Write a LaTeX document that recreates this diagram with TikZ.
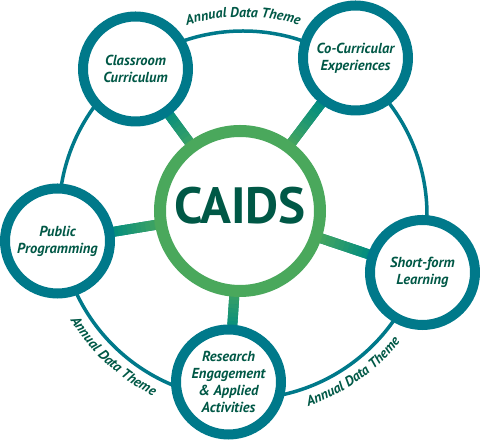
\documentclass[tikz,border=0pt]{standalone}
\usepackage{fontspec}
\newfontfamily\labelfont{PT Sans}
\usetikzlibrary{calc,backgrounds,decorations.text}
\definecolor{ringteal}{RGB}{0,121,138}
\definecolor{hubgreen}{RGB}{74,168,92}
\definecolor{spokegreen}{RGB}{72,166,94}
\definecolor{spoketeal}{RGB}{0,140,128}
\definecolor{txtgreen}{RGB}{0,88,70}

\begin{document}
\begin{tikzpicture}[x=1pt, y=1pt,
  hub/.style = {draw=hubgreen, circle, line width=12pt, fill=white, minimum size=160pt},
  hubtext/.style = {text=txtgreen, font=\labelfont\bfseries\fontsize{51}{51}\selectfont},
  sat/.style = {draw=ringteal, circle, line width=10pt, fill=white, minimum size=105pt,
    inner sep=0pt, align=center, text=txtgreen, font=\labelfont\bfseries\itshape\fontsize{14.5}{17}\selectfont},
  spoke/.style = {line width=10pt},
  theme/.style = {draw=ringteal, line width=3.5pt},
  themetext/.style = {decorate, decoration={text along path, text align=center,
    text={|\labelfont\bfseries\itshape\fontsize{14}{14}\selectfont\color{txtgreen}|Annual Data Theme}}}]
  \useasboundingbox (0,0) rectangle (480,441);

  \coordinate (ringc) at (243,226);
  \node[hub] (caids) at (240,230) {};
  \node[hubtext] (caidslabel) at ([yshift=5pt]caids.center) {CAIDS};
  \node[sat] (classroom) at (135.5,372) {Classroom\\Curriculum};
  \node[sat] (cocurr) at (355.5,383) {Co-Curricular\\Experiences};
  \node[sat] (public) at (57.5,200) {Public\\Programming};
  \node[sat] (shortform) at (422.5,168.5) {Short-form\\Learning};
  \node[sat] (research) at (228.5,59) {Research\\Engagement\\\&~Applied\\Activities};

  \begin{scope}[on background layer]
    \draw[theme] (ringc) circle[radius=184];
    \foreach \o in {classroom,cocurr,public,shortform,research}{
      \draw[spoke, spoketeal] (caids) -- (\o);
      \foreach \i in {0,...,11}{
        \pgfmathsetmacro\ta{0.42+0.025*\i}
        \pgfmathsetmacro\tb{\ta+0.027}
        \pgfmathtruncatemacro\mx{100-100*\i/11}
        \draw[spoke, spokegreen!\mx!spoketeal] ($(caids)!\ta!(\o)$) -- ($(caids)!\tb!(\o)$);
      }
    }
  \end{scope}

  \path[themetext] ($(ringc)+(130:198)$) arc[start angle=130, end angle=50, radius=198];
  \path[themetext] ($(ringc)+(200:202)$) arc[start angle=200, end angle=255, radius=202];
  \path[themetext] ($(ringc)+(276:202)$) arc[start angle=276, end angle=334, radius=202];
\end{tikzpicture}
\end{document}
